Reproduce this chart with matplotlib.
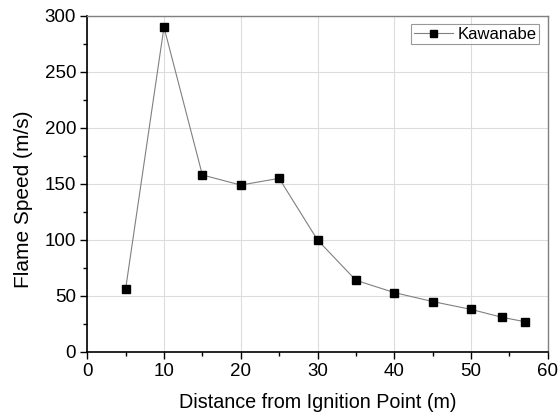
import matplotlib
matplotlib.use("Agg")
import matplotlib.pyplot as plt
from matplotlib.ticker import MultipleLocator

plt.rcParams['font.family'] = ['Liberation Sans', 'DejaVu Sans']

distance = [5, 10, 15, 20, 25, 30, 35, 40, 45, 50, 54, 57]
speed = [56, 290, 158, 149, 155, 100, 64, 53, 45, 38, 31, 27]
series_label = "Kawanabe"

fig = plt.figure(figsize=(5.59, 4.19), dpi=100)
ax = fig.add_axes([0.156, 0.160, 0.824, 0.802])

ax.plot(distance, speed, color='#808080', lw=0.8, marker='s', markersize=5.6,
        markerfacecolor='black', markeredgecolor='black', label=series_label, zorder=3)

ax.set_xlim(0, 60)
ax.set_ylim(0, 300)
ax.xaxis.set_major_locator(MultipleLocator(10))
ax.xaxis.set_minor_locator(MultipleLocator(5))
ax.yaxis.set_major_locator(MultipleLocator(50))
ax.yaxis.set_minor_locator(MultipleLocator(25))
ax.grid(True, which='major', color='#dcdcdc', lw=0.8, zorder=0)
ax.set_axisbelow(True)

for s in ['left', 'bottom']:
    ax.spines[s].set_color('black')
    ax.spines[s].set_linewidth(1.2)
for s in ['top', 'right']:
    ax.spines[s].set_color('#808080')
    ax.spines[s].set_linewidth(1.0)

ax.tick_params(which='major', direction='out', length=5, width=1, labelsize=13.5, pad=3)
ax.tick_params(which='minor', direction='out', length=3, width=1)

ax.set_xlabel("Distance from Ignition Point (m)", fontsize=14.2, labelpad=9)
ax.set_ylabel("Flame Speed (m/s)", fontsize=15, labelpad=4)
ax.yaxis.set_label_coords(-0.118, 0.455)

leg = ax.legend(loc='upper right', fontsize=12, frameon=True, fancybox=False,
                edgecolor='#808080', handlelength=2.35, handletextpad=0.3,
                borderpad=0.15, borderaxespad=0.5, markerscale=0.9)
leg.get_frame().set_linewidth(0.8)

fig.savefig("out.png", dpi=100)
